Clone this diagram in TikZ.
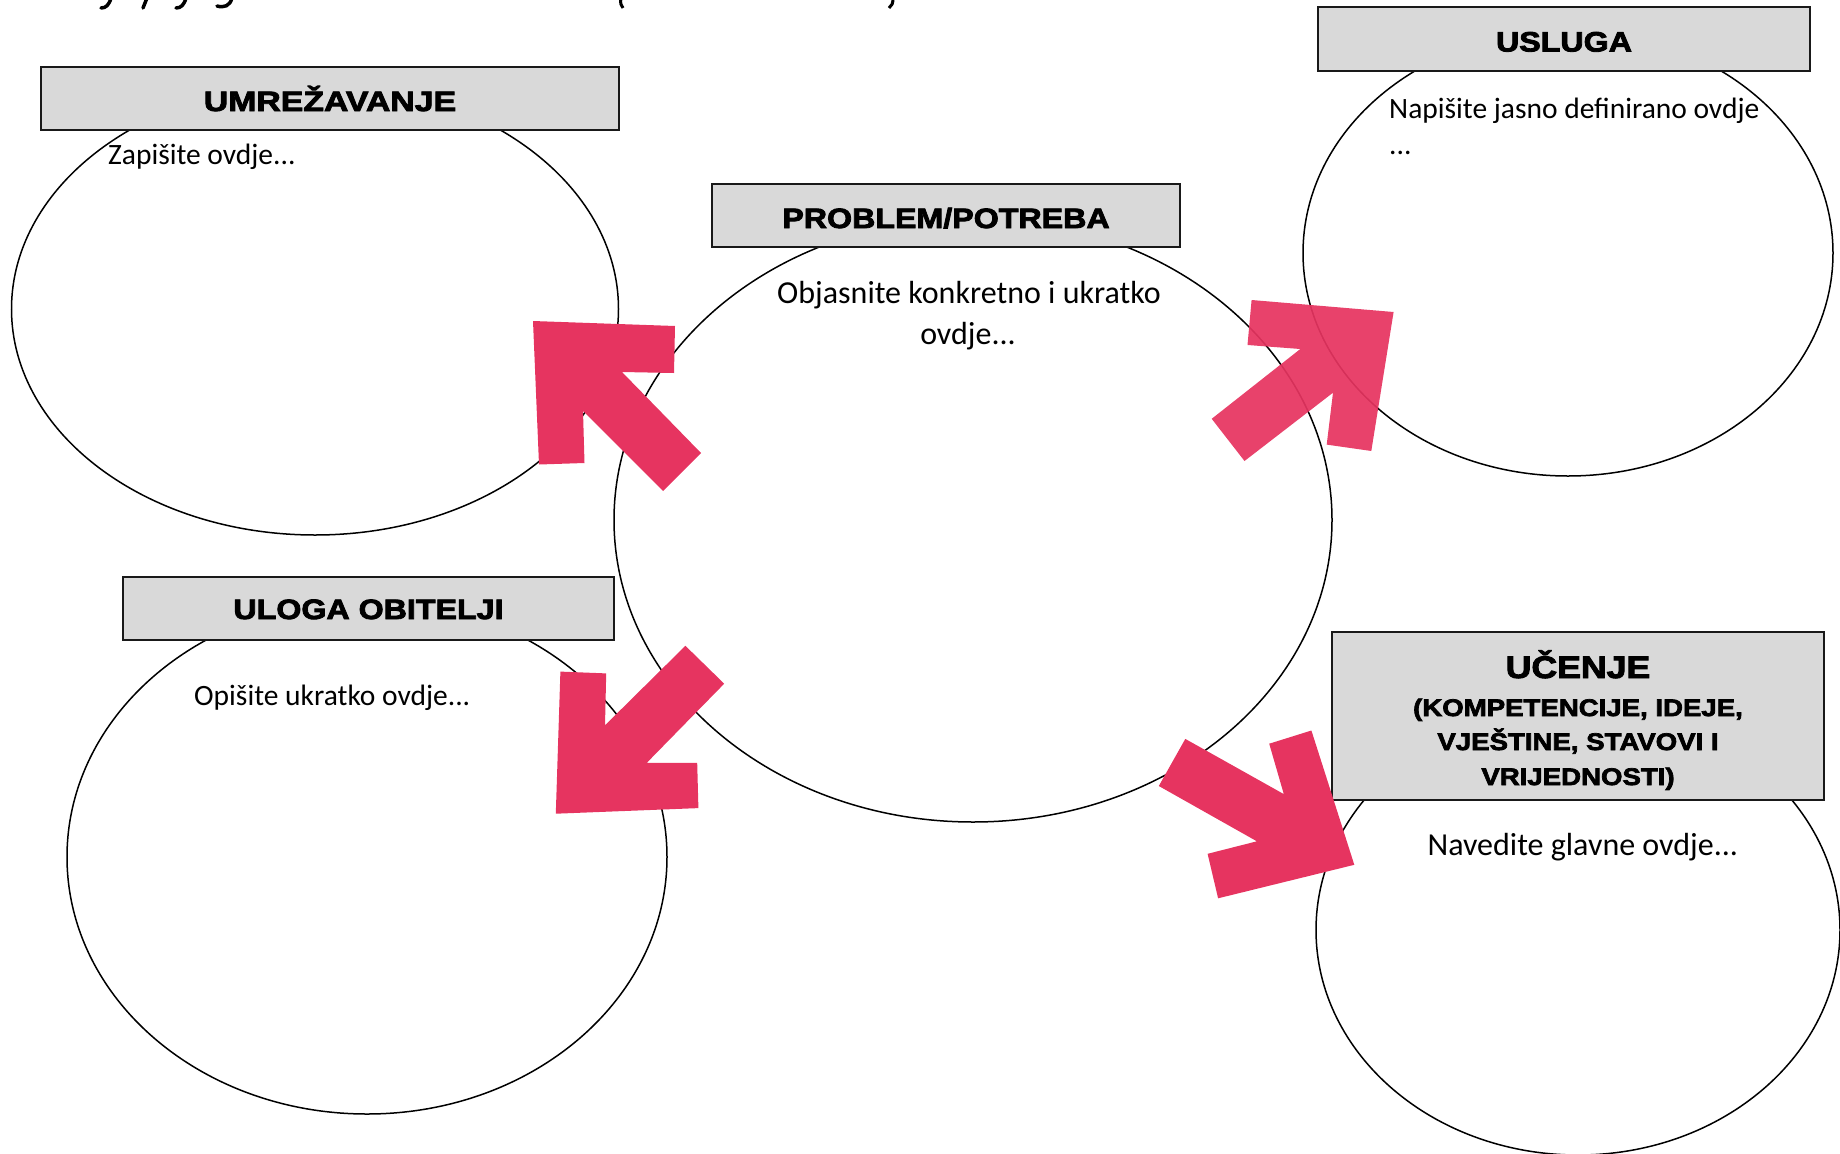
\documentclass[tikz,border=0pt]{standalone}
\usepackage{fontspec}
\usepackage{graphicx}
\setmainfont{Carlito}
\newfontfamily\hfont{Liberation Sans}[BoldFeatures={FakeBold=3,FakeStretch=1.15}]
\usetikzlibrary{shapes.geometric}
\definecolor{boxgray}{HTML}{D9D9D9}
\definecolor{arrowpink}{RGB}{230,52,96}
\tikzset{
  hbox/.style={draw=black!90, line width=2pt, fill=boxgray, inner sep=0pt},
  htext/.style={font=\hfont\bfseries\fontsize{28}{34}\selectfont, anchor=base, inner sep=0pt},
  hsub/.style={font=\hfont\bfseries\fontsize{24}{30}\selectfont, anchor=base, inner sep=0pt},
  btext/.style={font=\fontsize{32}{41}\selectfont, inner sep=0pt},
  stext/.style={font=\fontsize{29.5}{36}\selectfont, inner sep=0pt},
  oval/.style={draw=black, ellipse, line width=1.5pt, inner sep=0pt},
  bigarrow/.style={fill=arrowpink},
  frag/.style={line width=3.5pt, line cap=round}
}
\begin{document}
\begin{tikzpicture}[x=1pt, y=-1pt]
\useasboundingbox (0,0) rectangle (1840,1154);
\clip (0,0) rectangle (1840,1154);

% cut-off title fragments at the top edge
\draw[frag] (111,-2) .. controls (109,5) and (106,8) .. (101,8);
\draw[frag] (147,-2) -- (143,8);
\draw[frag] (186,-2) .. controls (184,5) and (181,8) .. (176,8);
\draw[frag] (232,-2) .. controls (230,6) and (224,8) .. (217,6);
\draw[line width=3pt] (621,-2) .. controls (620,3) and (621,6) .. (623,8);
\draw[line width=3pt] (893,-2) .. controls (893,3) and (892,6) .. (889,8);

% ellipses
\node[oval, minimum width=607, minimum height=452] (e1) at (315,309) {};
\node[oval, minimum width=718, minimum height=604] (e2) at (973,520) {};
\node[oval, minimum width=530, minimum height=446] (e3) at (1568,253) {};
\node[oval, minimum width=600, minimum height=514] (e4) at (367,857) {};
\node[oval, minimum width=524, minimum height=450] (e5) at (1578,930) {};

% heading boxes
\node[hbox, minimum width=578.5, minimum height=63] (b1) at (330,98.5) {};
\node[hbox, minimum width=468, minimum height=63] (b2) at (946,215.5) {};
\node[hbox, minimum width=492, minimum height=64] (b3) at (1564,39) {};
\node[hbox, minimum width=491, minimum height=63] (b4) at (368.5,608.5) {};
\node[hbox, minimum width=491.5, minimum height=168] (b5) at (1578,716) {};

\node[htext] (h1) at (330,111) {\scalebox{1.05}[1]{UMREŽAVANJE}};
\node[htext] (h2) at (946,228) {PROBLEM/POTREBA};
\node[htext] (h3) at (1564,51.5) {USLUGA};
\node[htext] (h4) at (368.5,619) {ULOGA OBITELJI};
\node[htext, font=\hfont\bfseries\fontsize{31}{36}\selectfont] (h5) at (1578,678) {UČENJE};
\node[hsub] (h5a) at (1578,716) {(KOMPETENCIJE, IDEJE,};
\node[hsub] (h5b) at (1578,750) {VJEŠTINE, STAVOVI I};
\node[hsub] (h5c) at (1578,785) {VRIJEDNOSTI)};

% body texts
\node[stext, anchor=base west] (t1) at (108,164) {Zapišite ovdje...};
\node[btext, anchor=base] (t2) at (969,303) {Objasnite konkretno i ukratko};
\node[btext, anchor=base] (t2b) at (968,344) {ovdje...};
\node[stext, anchor=base west] (t3) at (1389,118) {Napišite jasno definirano ovdje};
\node[stext, anchor=base west] (t3b) at (1389,154) {...};
\node[stext, anchor=base west] (t4) at (194,705) {Opišite ukratko ovdje...};
\node[btext, anchor=base west] (t5) at (1427.4,855.8) {Navedite glavne ovdje...};

% block arrows
\fill[bigarrow] (533,321) -- (675,326) -- (674,373) -- (622,372) -- (701,453) -- (663,491) -- (583,411) -- (584.5,463) -- (539,464.5) -- cycle;
\fill[bigarrow, fill opacity=0.93] (1251.6,300) -- (1393.6,312) -- (1371.3,451) -- (1326.7,444.6) -- (1333,392.7) -- (1244.5,461) -- (1211.7,418.8) -- (1300.3,349) -- (1247.5,345) -- cycle;
\fill[bigarrow] (685.4,645.8) -- (724.2,683.7) -- (646.7,762.9) -- (697.2,762.9) -- (698.4,808.1) -- (555.8,813.7) -- (560.4,671.6) -- (606.2,673.4) -- (605,725.3) -- cycle;
\fill[bigarrow] (1185.3,738.9) -- (1158.8,786) -- (1256.9,841.3) -- (1207.6,853.8) -- (1218.1,898.3) -- (1354.3,864.8) -- (1311.4,730.5) -- (1269.2,743.7) -- (1283.8,794.1) -- cycle;
\end{tikzpicture}
\end{document}
